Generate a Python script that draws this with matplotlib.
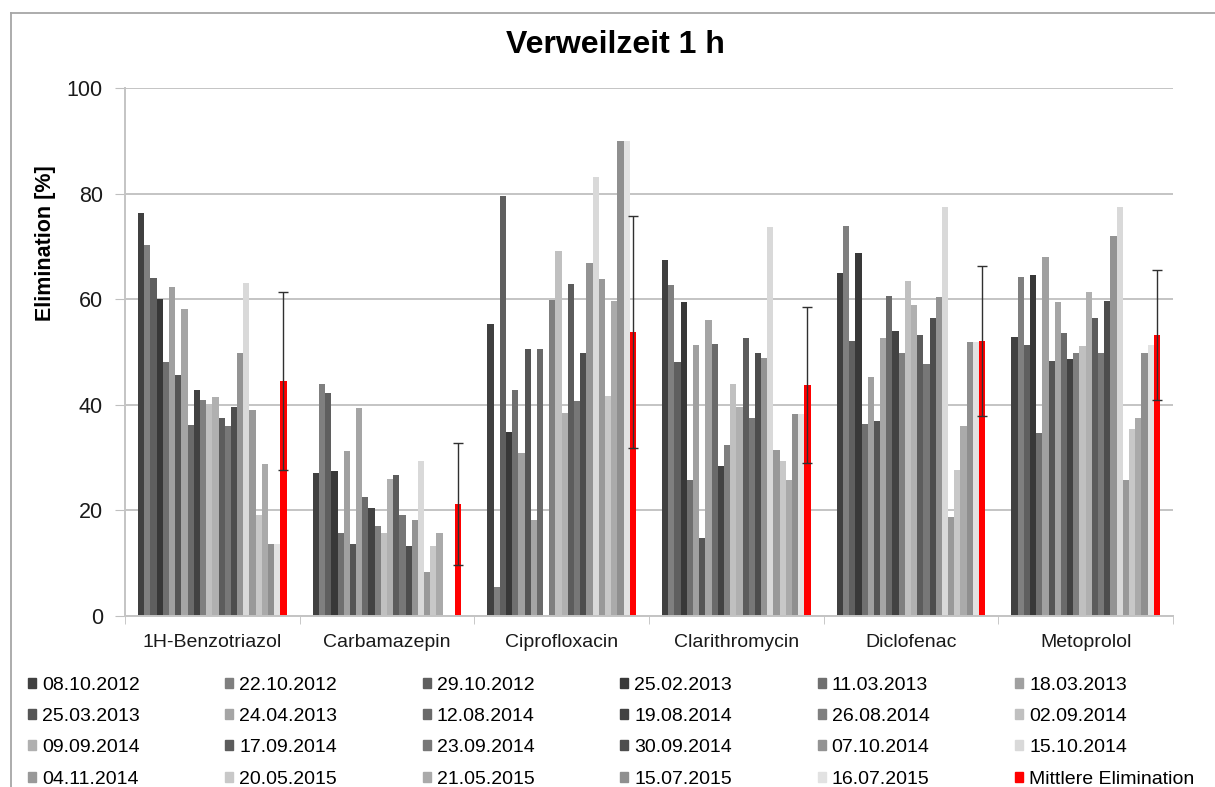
import numpy as np
import matplotlib
matplotlib.use("Agg")
import matplotlib.pyplot as plt
from matplotlib.lines import Line2D
from matplotlib.patches import Patch

plt.rcParams['font.family'] = ['Liberation Sans', 'DejaVu Sans']

substances = ['1H-Benzotriazol', 'Carbamazepin', 'Ciprofloxacin',
              'Clarithromycin', 'Diclofenac', 'Metoprolol']

dates = ['08.10.2012', '22.10.2012', '29.10.2012', '25.02.2013', '11.03.2013',
         '18.03.2013', '25.03.2013', '24.04.2013', '12.08.2014', '19.08.2014',
         '26.08.2014', '02.09.2014', '09.09.2014', '17.09.2014', '23.09.2014',
         '30.09.2014', '07.10.2014', '15.10.2014', '04.11.2014', '20.05.2015',
         '21.05.2015', '15.07.2015', '16.07.2015']

# elimination [%] per sampling date, one list per substance
benzotriazol = [76.4, 70.3, 64.0, 60.0, 48.2, 62.4, 45.6, 58.2, 36.1, 42.8, 40.9, 40.2,
                41.4, 37.5, 35.9, 39.6, 49.9, 63.0, 39.1, 19.1, 28.8, 13.6, 13.6]
carbamazepin = [27.0, 44.0, 42.3, 27.4, 15.8, 31.2, 13.6, 39.4, 22.5, 20.5, 17.0, 15.8,
                25.9, 26.7, 19.1, 13.2, 18.1, 29.3, 8.4, 13.2, 15.8, np.nan, np.nan]
ciprofloxacin = [55.3, 5.4, 79.5, 34.9, 42.8, 30.9, 50.5, 18.2, 50.5, np.nan, 59.9, 69.1,
                 38.4, 62.8, 40.8, 49.9, 66.9, 83.2, 63.9, 41.7, 59.7, 89.9, 89.9]
clarithromycin = [67.5, 62.7, 48.2, 59.4, 25.8, 51.3, 14.7, 56.0, 51.6, 28.5, 32.4, 43.9,
                  39.5, 52.7, 37.5, 49.9, 48.8, 73.6, 31.4, 29.3, 25.8, 38.2, 38.2]
diclofenac = [65.0, 73.8, 52.1, 68.7, 36.3, 45.3, 36.9, 52.7, 60.6, 53.9, 49.9, 63.4,
              58.9, 53.2, 47.7, 56.4, 60.4, 77.4, 18.7, 27.6, 35.9, 51.8, 51.8]
metoprolol = [52.8, 64.2, 51.4, 64.5, 34.7, 68.0, 48.3, 59.5, 53.6, 48.6, 49.9, 51.1,
              61.3, 56.4, 49.9, 59.6, 72.0, 77.5, 25.8, 35.5, 37.5, 49.9, 51.4]

mean_elim = [44.5, 21.2, 53.8, 43.8, 52.1, 53.2]
std_elim = [16.9, 11.5, 21.9, 14.8, 14.2, 12.3]

colors = ['#404040', '#7f7f7f', '#5f5f5f', '#383838', '#6f6f6f', '#a0a0a0',
          '#555555', '#a5a5a5', '#6a6a6a', '#424242', '#7f7f7f', '#c0c0c0',
          '#b0b0b0', '#5c5c5c', '#777777', '#4d4d4d', '#939393', '#d9d9d9',
          '#999999', '#c8c8c8', '#aaaaaa', '#8f8f8f', '#e2e2e2']

values = np.array([benzotriazol, carbamazepin, ciprofloxacin,
                   clarithromycin, diclofenac, metoprolol])

fig = plt.figure(figsize=(12.15, 7.87), dpi=100)
ax = fig.add_axes([125 / 1215, 1 - 616 / 787, 1048 / 1215, 528 / 787])

n = len(dates) + 1
w = 0.85 / n
x = np.arange(len(substances))
handles = []
for j, d in enumerate(dates):
    ax.bar(x + (j - (n - 1) / 2) * w, values[:, j], width=w, color=colors[j], zorder=2)
    handles.append(Patch(color=colors[j], label=d))
ax.bar(x + (n - 1 - (n - 1) / 2) * w, mean_elim, width=w, color='#ff0000', zorder=2,
       yerr=std_elim, error_kw=dict(ecolor='#303030', elinewidth=1, capsize=3.5, capthick=1))
handles.append(Patch(color='#ff0000', label='Mittlere Elimination'))

ax.set_ylim(0, 100)
ax.set_xlim(-0.5, len(substances) - 0.5)
ax.set_yticks(range(0, 101, 20))
ax.set_xticks(x)
ax.set_xticklabels(substances, fontsize=14, color='#1a1a1a')
ax.set_xticks(np.arange(-0.5, len(substances)), minor=True)
ax.tick_params(axis='x', which='major', length=0, pad=13)
ax.tick_params(axis='x', which='minor', length=6, color='#bfbfbf', direction='out')
ax.tick_params(axis='y', labelsize=15.5, length=7, color='#bfbfbf', pad=9, labelcolor='#1a1a1a')
ax.yaxis.grid(True, color='#c4c4c4', linewidth=1.4, zorder=0)
ax.set_axisbelow(True)
for s in ['top', 'right']:
    ax.spines[s].set_visible(False)
for s in ['left', 'bottom']:
    ax.spines[s].set_color('#c4c4c4')
    ax.spines[s].set_linewidth(1.4)

fig.text(615 / 1215, 1 - 45 / 787, 'Verweilzeit 1 h', fontsize=23, fontweight='bold',
         ha='center', va='center')
fig.text(46 / 1215, 1 - 243 / 787, 'Elimination [%]', fontsize=15.5, fontweight='bold',
         rotation=90, ha='center', va='center')

# chart area border
fig.add_artist(Line2D([11 / 1215, 11 / 1215], [0, 1 - 13 / 787], color='#a6a6a6', lw=1.3))
fig.add_artist(Line2D([11 / 1215, 1], [1 - 13 / 787, 1 - 13 / 787], color='#a6a6a6', lw=1.3))

# legend is filled row by row
ncol = 6
nrow = 4
order = [r * ncol + c for c in range(ncol) for r in range(nrow)]
fig.legend([handles[i] for i in order], [handles[i].get_label() for i in order],
           ncol=ncol, loc='upper left', bbox_to_anchor=(28 / 1215, 1 - 677 / 787),
           frameon=False, fontsize=14, handlelength=0.42, handleheight=0.42,
           handletextpad=0.3, columnspacing=4.4, labelspacing=0.73, borderpad=0,
           borderaxespad=0)

fig.savefig('out.png', dpi=100)
